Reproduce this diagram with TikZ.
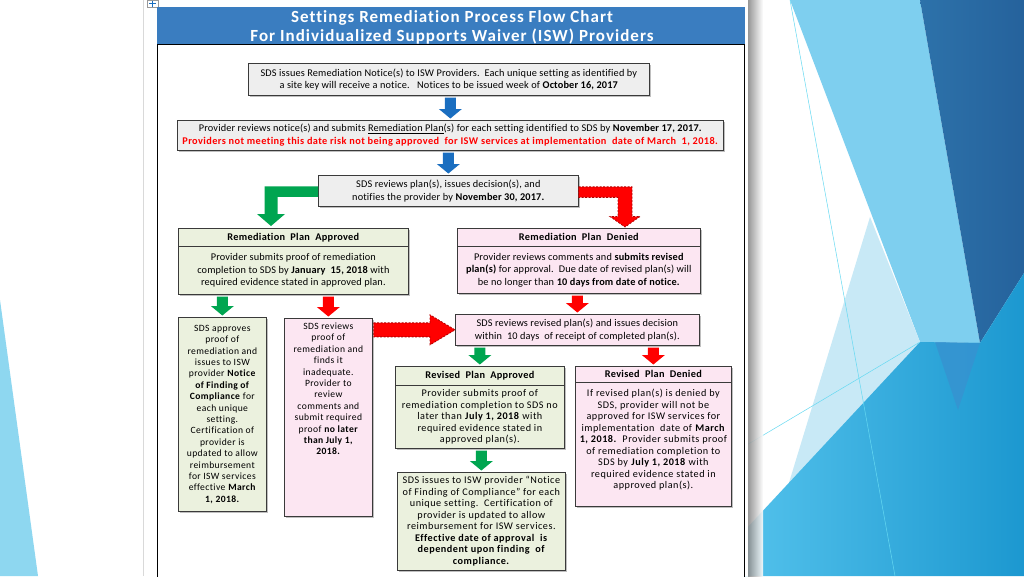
\documentclass[tikz,border=0pt]{standalone}
\usepackage{fontspec}
\setmainfont{Carlito}[Ligatures=CommonOff]
\usetikzlibrary{calc,shadows}
\definecolor{titleblue}{HTML}{3A7DC0}
\definecolor{boxline}{HTML}{3A3A3A}
\definecolor{greyfill}{HTML}{EEEEEE}
\definecolor{greenfill}{HTML}{EBF1DE}
\definecolor{pinkfill}{HTML}{FCE6F2}
\definecolor{arrblue}{HTML}{1A6EC0}
\definecolor{arrgreen}{HTML}{00A550}
\definecolor{arrred}{HTML}{FF0000}
\definecolor{arrredline}{HTML}{B00000}
\definecolor{txtred}{HTML}{FF0000}
\definecolor{bgvlight}{HTML}{C8E9F6}
\definecolor{bglight}{HTML}{7ECFEF}
\definecolor{bgdark}{HTML}{2D72AA}
\definecolor{bgdarker}{HTML}{25629C}
\definecolor{bgtealL}{HTML}{52C1EB}
\definecolor{bgtealR}{HTML}{1C98D0}
\definecolor{bgmid}{HTML}{3792D0}
\definecolor{bgleft}{HTML}{8ED7F0}
\newcommand{\smf}{\fontsize{10.3}{12.5}\selectfont\addfontfeature{LetterSpace=1.5}}
\newcommand{\nrf}{\fontsize{9.6}{11.4}\selectfont\addfontfeature{LetterSpace=4}}
\newcommand{\mdf}{\fontsize{10.2}{11.5}\selectfont\addfontfeature{LetterSpace=5}}
\newcommand{\hdf}{\fontsize{10.3}{12}\selectfont\bfseries\addfontfeature{LetterSpace=3}}
\newcommand{\ttf}{\fontsize{17}{19}\selectfont\bfseries\addfontfeature{LetterSpace=6}}
% down block arrow from source node to target node (at target centre x)
\newcommand{\blockdown}[3]{%
  \path[#1] let \p1=(#3.north), \p2=(#2.south) in
    (\x1-5.5pt,\y2-2pt) -- (\x1+5.5pt,\y2-2pt) -- (\x1+5.5pt,\y1+11pt) --
    (\x1+11.5pt,\y1+11pt) -- (\x1,\y1+1.5pt) -- (\x1-11.5pt,\y1+11pt) --
    (\x1-5.5pt,\y1+11pt) -- cycle;}
\begin{document}
\begin{tikzpicture}[x=1pt,y=-1pt,
  box/.style={draw=boxline, line width=0.7pt, inner sep=0pt, align=center,
    anchor=north west,
    drop shadow={shadow xshift=1.6pt, shadow yshift=-1.6pt, fill=black!55, opacity=0.45}},
  greybox/.style={box, fill=greyfill},
  greenbox/.style={box, fill=greenfill},
  pinkbox/.style={box, fill=pinkfill},
  bluearr/.style={fill=arrblue},
  greenarr/.style={fill=arrgreen},
  redarr/.style={fill=arrred},
  reddash/.style={fill=arrred, draw=arrredline, line width=0.8pt, dash pattern=on 2pt off 1.5pt},
  thinline/.style={draw=bglight!80!cyan, line width=0.5pt}]
\useasboundingbox (0,0) rectangle (1024,576);
% ---------- slide background ----------
\fill[white] (0,0) rectangle (1024,576);
\fill[bgleft] (0,300) -- (38,576) -- (0,576) -- cycle;
\fill[bglight] (790,0) -- (920,0) -- (980,343) -- (920,342) -- cycle;
\fill[bgvlight] (870,217) -- (920,342) -- (770,545) -- cycle;
\shade[left color=bgdark, right color=bgdarker] (920,0) -- (1024,0) -- (1024,273) -- (980,343) -- cycle;
\shade[left color=bgtealL, right color=bgtealR] (745,530) -- (920,342) -- (980,343) -- (1024,273) -- (1024,576) -- (745,576) -- cycle;
\fill[bgmid, opacity=0.8] (935,342) -- (980,343) -- (958,410) -- cycle;
\draw[thinline] (790,0) -- (895,576);
\draw[thinline] (745,446) -- (920,342);
% ---------- document page ----------
\shade[left color=black!45, right color=white, opacity=0.9] (748,0) rectangle (763,576);
\fill[white] (143,0) rectangle (748,576);
\draw[black!15, line width=1pt] (143.5,0) -- (143.5,576);
% table handle icon
\draw[black!40, fill=white, line width=0.4pt] (147,0) rectangle (158,7.5);
\draw[arrblue, line width=0.7pt] (149,3.5) -- (156,3.5) (152.5,0.5) -- (152.5,6.5);
% ---------- chart frame and title ----------
\fill[titleblue] (157,7) rectangle (745,44);
\node[text=white, align=center, font=\ttf] (title) at (452,27)
  {Settings Remediation Process Flow Chart\\For Individualized Supports Waiver (ISW) Providers};
\draw[black, line width=1pt] (157,44) rectangle (744,590);
% ---------- boxes ----------
\node[greybox, minimum width=401pt, minimum height=32pt, font=\smf] (b1) at (248,63)
  {SDS issues Remediation Notice(s) to ISW Providers.\ \ Each unique setting as identified by\\
   a site key will receive a notice.\ \ \ Notices to be issued week of \textbf{October 16, 2017}};
\node[greybox, minimum width=546pt, minimum height=30pt, font=\smf] (b2) at (177,120)
  {Provider reviews notice(s) and submits \underline{Remediation Plan}(s) for each setting identified to SDS by \textbf{November 17, 2017.}\\
   \textcolor{txtred}{\addfontfeature{LetterSpace=4}\textbf{Providers not meeting this date risk not being approved\ \ for ISW services at implementation\ \ date of March\ \ 1, 2018.}}};
\node[greybox, minimum width=260pt, minimum height=31pt, font=\smf] (b3) at (318,175)
  {SDS reviews plan(s), issues decision(s), and\\ notifies the provider by \textbf{November 30, 2017.}};
% remediation plan approved
\node[greenbox, minimum width=230pt, minimum height=18pt, font=\hdf] (rpah) at (178,228)
  {Remediation\ \ Plan\ \ Approved};
\node[greenbox, minimum width=230pt, minimum height=48pt, font=\smf] (rpab) at (178,246)
  {Provider submits proof of remediation\\ completion to SDS by \textbf{January\ \ 15, 2018} with\\ required evidence stated in approved plan.};
% remediation plan denied
\node[pinkbox, minimum width=243pt, minimum height=18pt, font=\hdf] (rpdh) at (457,228)
  {Remediation\ \ Plan\ \ Denied};
\node[pinkbox, minimum width=243pt, minimum height=47pt, font=\smf] (rpdb) at (457,246)
  {Provider reviews comments and \textbf{submits revised}\\ \textbf{plan(s)} for approval.\ \ Due date of revised plan(s) will\\ be no longer than \textbf{10 days from date of notice.}};
% SDS approves proof
\node[greenbox, font=\nrf] (sa) at (178,317)
  {\parbox[c][194pt][c]{88pt}{\centering
   SDS approves\\ proof of\\ remediation and\\ issues to ISW\\ provider \textbf{Notice}\\ \textbf{of Finding of}\\
   \textbf{Compliance} for\\ each unique\\ setting.\\ Certification of\\ provider is\\ updated to allow\\
   reimbursement\\ for ISW services\\ effective \textbf{March}\\ \textbf{1, 2018.}}};
% SDS reviews proof
\node[pinkbox, font=\nrf] (sr) at (284,318)
  {\parbox[c][198pt][t]{88pt}{\centering\vspace*{4.5pt}
   SDS reviews\\ proof of\\ remediation and\\ finds it\\ inadequate.\\ Provider to\\ review\\ comments and\\
   submit required\\ proof \textbf{no later}\\ \textbf{than July 1,}\\ \textbf{2018.}}};
% SDS reviews revised plans
\node[pinkbox, minimum width=244pt, minimum height=31pt, font=\smf] (rr) at (455,314)
  {SDS reviews revised plan(s) and issues decision\\ within\ \ 10 days\ \ of receipt of completed plan(s).};
% revised plan approved
\node[greenbox, minimum width=169pt, minimum height=19pt, font=\hdf] (rpah2) at (395,366)
  {Revised\ \ Plan\ \ Approved};
\node[greenbox, font=\mdf] (rpab2) at (395,385)
  {\parbox[c][63pt][c]{169pt}{\centering
   Provider submits proof of\\ remediation completion to SDS no\\ later than \textbf{July 1, 2018} with\\ required evidence stated in\\ approved plan(s).}};
% final compliance box
\node[greenbox, font=\mdf] (fin) at (397,472)
  {\parbox[c][98pt][c]{168pt}{\centering
   SDS issues to ISW provider “Notice\\ of Finding of Compliance” for each\\ unique setting.\ \ Certification of\\
   provider is updated to allow\\ reimbursement for ISW services.\\ \textbf{Effective date of approval\ \ is}\\
   \textbf{dependent upon finding\ \ of}\\ \textbf{compliance.}}};
% revised plan denied
\node[pinkbox, minimum width=156pt, minimum height=16pt, font=\hdf] (rpdh2) at (575,366)
  {Revised\ \ Plan\ \ Denied};
\node[pinkbox, font=\mdf] (rpdb2) at (575,382)
  {\parbox[c][124pt][t]{156pt}{\centering\vspace*{7pt}
   If revised plan(s) is denied by\\ SDS, provider will not be\\ approved for ISW services for\\
   implementation\ \ date of \textbf{March}\\ \textbf{1, 2018.}\ \ Provider submits proof\\ of remediation completion to\\
   SDS by \textbf{July 1, 2018} with\\ required evidence stated in\\ approved plan(s).}};
% ---------- block arrows ----------
\blockdown{bluearr}{b1}{b2}
\blockdown{bluearr}{b2}{b3}
\blockdown{greenarr}{rpab}{sa}
\blockdown{redarr}{rpab}{sr}
\blockdown{redarr}{rpdb}{rr}
\blockdown{greenarr}{rr}{rpah2}
\blockdown{redarr}{rr}{rpdh2}
\blockdown{greenarr}{rpab2}{fin}
% elbow arrows from b3
\coordinate (gtip) at (271,226);
\coordinate (rtip) at (625,227);
\path[greenarr] let \p1=(b3.west), \p2=(gtip) in
  (\x1,\y1+4.5pt) -- (\x2-6.5pt,\y1+4.5pt) -- (\x2-6.5pt,\y2+12pt) -- (\x2-14pt,\y2+12pt) --
  (\x2,\y2) -- (\x2+14pt,\y2+12pt) -- (\x2+6.5pt,\y2+12pt) -- (\x2+6.5pt,\y1-6pt) --
  (\x1,\y1-6pt) -- cycle;
\path[reddash] let \p1=(b3.east), \p2=(rtip) in
  (\x1,\y1+4pt) -- (\x2+7pt,\y1+4pt) -- (\x2+7pt,\y2+10.5pt) -- (\x2+15pt,\y2+10.5pt) --
  (\x2,\y2) -- (\x2-15pt,\y2+10.5pt) -- (\x2-7pt,\y2+10.5pt) -- (\x2-7pt,\y1-6.5pt) --
  (\x1,\y1-6.5pt) -- cycle;
% horizontal red arrow from sr to rr
\path[reddash] let \p1=(sr.east), \p2=(rr.west) in
  (\x1+1pt,\y2+7pt) -- (\x2-25pt,\y2+7pt) -- (\x2-25pt,\y2+15pt) -- (\x2,\y2) --
  (\x2-25pt,\y2-15pt) -- (\x2-25pt,\y2-7pt) -- (\x1+1pt,\y2-7pt) -- cycle;
\end{tikzpicture}
\end{document}
